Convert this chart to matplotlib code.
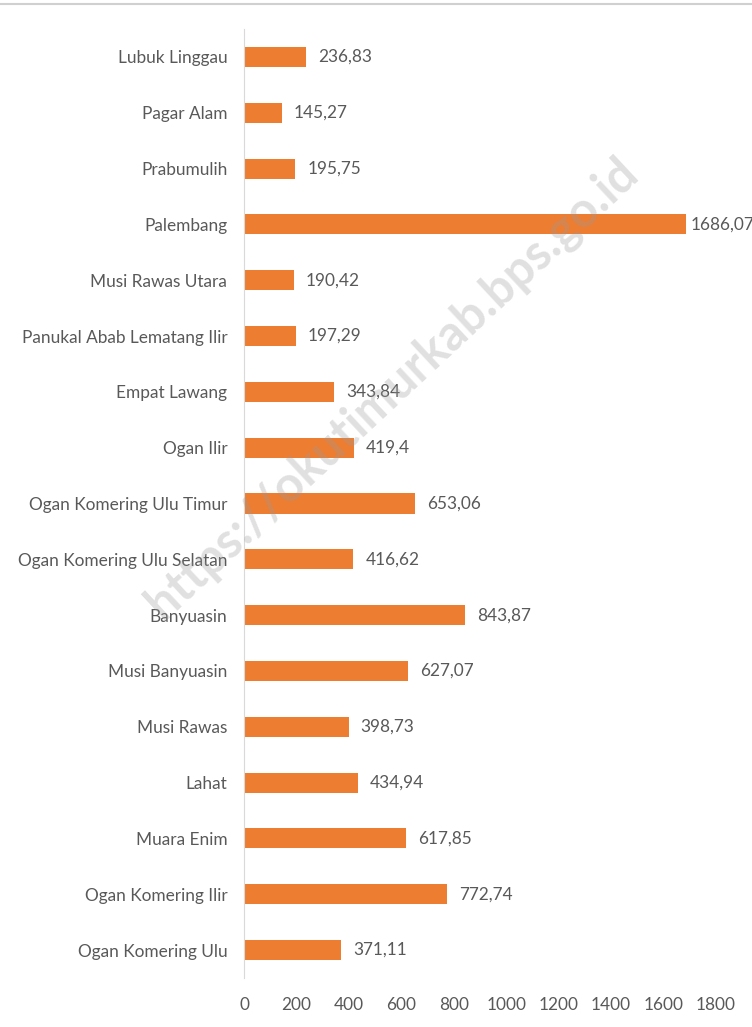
import matplotlib
matplotlib.use("Agg")
import matplotlib.pyplot as plt
from matplotlib.lines import Line2D

categories = ["Lubuk Linggau", "Pagar Alam", "Prabumulih", "Palembang", "Musi Rawas Utara",
              "Panukal Abab Lematang Ilir", "Empat Lawang", "Ogan Ilir", "Ogan Komering Ulu Timur",
              "Ogan Komering Ulu Selatan", "Banyuasin", "Musi Banyuasin", "Musi Rawas", "Lahat",
              "Muara Enim", "Ogan Komering Ilir", "Ogan Komering Ulu"]
values = [236.83, 145.27, 195.75, 1686.07, 190.42, 197.29, 343.84, 419.4, 653.06,
          416.62, 843.87, 627.07, 398.73, 434.94, 617.85, 772.74, 371.11]
value_labels = ["236,83", "145,27", "195,75", "1686,07", "190,42", "197,29", "343,84", "419,4",
                "653,06", "416,62", "843,87", "627,07", "398,73", "434,94", "617,85", "772,74",
                "371,11"]
xticks = [0, 200, 400, 600, 800, 1000, 1200, 1400, 1600, 1800]

plt.rcParams['font.family'] = ['Lato', 'DejaVu Sans']
txt = '#595959'

fig = plt.figure(figsize=(7.52, 10.27), dpi=100)
ax = fig.add_axes([244/752, 1 - 978/1027, (716-244)/752, (978-29)/1027])

ypos = list(range(len(categories)))
ax.barh(ypos, values, height=0.36, color='#ED7D31')
ax.set_ylim(len(categories) - 0.5, -0.5)
ax.set_xlim(0, 1800)
ax.set_yticks(ypos)
ax.set_yticklabels(categories, fontsize=12.4, color=txt)
ax.set_xticks(xticks)
ax.set_xticklabels([str(t) for t in xticks], fontsize=12.4, color=txt)
ax.tick_params(axis='both', length=0)
ax.tick_params(axis='y', pad=12)
ax.tick_params(axis='x', pad=14)
for s in ['top', 'right', 'bottom']:
    ax.spines[s].set_visible(False)
ax.spines['left'].set_color('#D9D9D9')

for y, v, lbl in zip(ypos, values, value_labels):
    pad = 4 if v > 1600 else 12
    ax.text(v + pad * 1800 / 472, y, lbl, va='center', ha='left', fontsize=12.4, color=txt)

fig.text(392/752, 1 - 388/1027, "https://okutimurkab.bps.go.id", rotation=43,
         ha='center', va='center', fontsize=35, fontweight='bold', color='#9a9a9a', alpha=0.3)

fig.add_artist(Line2D([0, 1], [1 - 4/1027, 1 - 4/1027], color='#D0D0D0', lw=1.5,
                      transform=fig.transFigure))

fig.savefig("out.png", dpi=100)
